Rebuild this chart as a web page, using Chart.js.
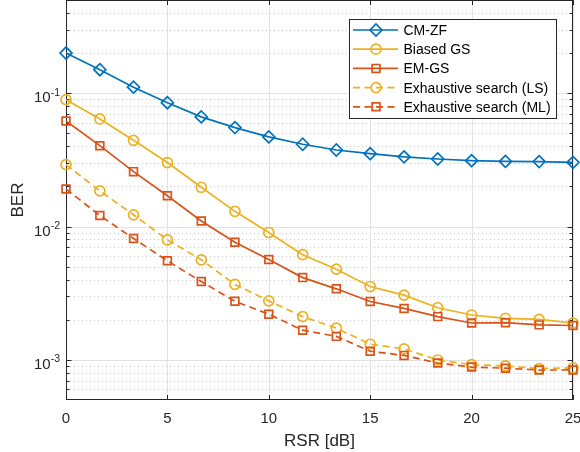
<!DOCTYPE html>
<html>
<head>
<meta charset="utf-8">
<script src="https://cdn.jsdelivr.net/npm/chart.js@4/dist/chart.umd.min.js"></script>
<style>
  html, body { margin: 0; padding: 0; background: #fff; }
  #wrap { width: 580px; height: 452px; }
</style>
</head>
<body>
<div id="wrap"><canvas id="berChart" width="580" height="452"></canvas></div>
<script>
// ── data ──
const rsr = [0, 1.67, 3.33, 5, 6.67, 8.33, 10, 11.67, 13.33, 15, 16.67, 18.33, 20, 21.67, 23.33, 25];
const cmZf = [0.200, 0.150, 0.111, 0.0849, 0.0664, 0.0552, 0.0470, 0.0414, 0.0375, 0.0352, 0.0333, 0.0321, 0.0312, 0.0308, 0.0307, 0.0303];
const biasedGs = [0.0894, 0.0641, 0.0443, 0.0302, 0.0197, 0.0130, 0.00902, 0.00615, 0.00479, 0.00355, 0.00306, 0.00246, 0.00217, 0.00205, 0.00201, 0.00189];
const emGs = [0.0619, 0.0404, 0.0258, 0.0170, 0.0110, 0.00762, 0.00566, 0.00414, 0.00341, 0.00274, 0.00243, 0.00211, 0.00189, 0.00190, 0.00183, 0.00181];
const exhLs = [0.0291, 0.0185, 0.01225, 0.00795, 0.00563, 0.00368, 0.00277, 0.00211, 0.00173, 0.00131, 0.00121, 0.000998, 0.00092, 0.00090, 0.00086, 0.00087];
const exhMl = [0.0191, 0.0121, 0.00813, 0.00553, 0.00387, 0.00275, 0.00220, 0.00167, 0.00150, 0.00116, 0.00108, 0.000946, 0.000883, 0.000866, 0.000839, 0.00084];

const xTicks = [0, 5, 10, 15, 20, 25];
const yDecades = [1e-3, 1e-2, 1e-1];
const yDecadeExps = ['-3', '-2', '-1'];
const seriesNames = ['CM-ZF', 'Biased GS', 'EM-GS', 'Exhaustive search (LS)', 'Exhaustive search (ML)'];

const BLUE = '#0072BD', YELLOW = '#EDB120', ORANGE = '#D95319';
const FONT = '"Liberation Sans", Arial, Helvetica, sans-serif';
const DASH = [7, 4.5];
const LINE_W = 1.7;
const Y_MIN = 5e-4, Y_MAX = 5e-1;

const toPts = arr => arr.map((v, i) => ({ x: rsr[i], y: v }));

function series(label, data, color, style, radius, dashed, order) {
  return {
    label,
    data: toPts(data),
    borderColor: color,
    borderWidth: LINE_W,
    borderDash: dashed ? DASH : [],
    pointStyle: style,
    pointRadius: radius,
    pointBorderColor: color,
    pointBackgroundColor: 'rgba(0,0,0,0)',
    pointBorderWidth: LINE_W,
    tension: 0,
    fill: false,
    clip: false,
    order,
  };
}

const datasets = [
  series(seriesNames[0], cmZf, BLUE, 'rectRot', 6, false, 4),
  series(seriesNames[1], biasedGs, YELLOW, 'circle', 5, false, 3),
  series(seriesNames[2], emGs, ORANGE, 'rect', 5.5, false, 2),
  series(seriesNames[3], exhLs, YELLOW, 'circle', 5, true, 1),
  series(seriesNames[4], exhMl, ORANGE, 'rect', 5.5, true, 0),
];

// ── MATLAB-like axes: grid, box, ticks, labels, legend ──
const matlabAxes = {
  id: 'matlabAxes',
  beforeDraw(chart) {
    const ctx = chart.ctx;
    ctx.save();
    ctx.fillStyle = '#fff';
    ctx.fillRect(0, 0, chart.width, chart.height);
    ctx.restore();
  },
  beforeDatasetsDraw(chart) {
    const { ctx, chartArea: a, scales: { x, y } } = chart;
    ctx.save();
    ctx.lineWidth = 1;

    // minor y grid (dotted)
    ctx.strokeStyle = '#c6c6c6';
    ctx.setLineDash([1, 3]);
    for (let e = -4; e <= -1; e++) {
      for (let m = 2; m <= 9; m++) {
        const v = m * Math.pow(10, e);
        if (v <= Y_MIN || v >= Y_MAX) continue;
        const py = Math.round(y.getPixelForValue(v)) + 0.5;
        ctx.beginPath(); ctx.moveTo(a.left, py); ctx.lineTo(a.right, py); ctx.stroke();
      }
    }

    // major grid (solid)
    ctx.setLineDash([]);
    ctx.strokeStyle = '#e2e2e2';
    yDecades.forEach(v => {
      const py = Math.round(y.getPixelForValue(v)) + 0.5;
      ctx.beginPath(); ctx.moveTo(a.left, py); ctx.lineTo(a.right, py); ctx.stroke();
    });
    xTicks.forEach(v => {
      const px = Math.round(x.getPixelForValue(v)) + 0.5;
      ctx.beginPath(); ctx.moveTo(px, a.top); ctx.lineTo(px, a.bottom); ctx.stroke();
    });

    // box
    ctx.strokeStyle = '#262626';
    ctx.strokeRect(a.left + 0.5, a.top + 0.5, a.right - a.left - 1, a.bottom - a.top - 1);

    // ticks (inward)
    ctx.beginPath();
    xTicks.forEach(v => {
      const px = Math.round(x.getPixelForValue(v)) + 0.5;
      ctx.moveTo(px, a.bottom); ctx.lineTo(px, a.bottom - 5);
      ctx.moveTo(px, a.top); ctx.lineTo(px, a.top + 5);
    });
    for (let e = -4; e <= -1; e++) {
      for (let m = 1; m <= 9; m++) {
        const v = m * Math.pow(10, e);
        if (v <= Y_MIN || v >= Y_MAX) continue;
        const len = m === 1 ? 5.5 : 3.5;
        const py = Math.round(y.getPixelForValue(v)) + 0.5;
        ctx.moveTo(a.left, py); ctx.lineTo(a.left + len, py);
        ctx.moveTo(a.right, py); ctx.lineTo(a.right - len, py);
      }
    }
    ctx.stroke();

    // tick labels
    ctx.fillStyle = '#262626';
    ctx.font = '15px ' + FONT;
    ctx.textAlign = 'center';
    ctx.textBaseline = 'alphabetic';
    xTicks.forEach(v => ctx.fillText(String(v), x.getPixelForValue(v), a.bottom + 23));

    yDecades.forEach((v, i) => {
      const py = y.getPixelForValue(v);
      ctx.font = '10.5px ' + FONT;
      const expW = ctx.measureText(yDecadeExps[i]).width;
      ctx.textAlign = 'right';
      ctx.fillText(yDecadeExps[i], 60, py + 2.5);
      ctx.font = '15px ' + FONT;
      ctx.fillText('10', 60 - expW, py + 9);
    });

    // axis titles
    ctx.font = '17px ' + FONT;
    ctx.textAlign = 'center';
    ctx.fillText('RSR [dB]', (a.left + a.right) / 2, 445.5);
    ctx.save();
    ctx.translate(22.5, (a.top + a.bottom) / 2);
    ctx.rotate(-Math.PI / 2);
    ctx.fillText('BER', 0, 0);
    ctx.restore();

    ctx.restore();
  },
  afterDraw(chart) {
    const ctx = chart.ctx;
    const box = { x: 349.5, y: 19.5, w: 207, h: 99 };
    ctx.save();
    ctx.fillStyle = '#fff';
    ctx.fillRect(box.x, box.y, box.w, box.h);
    ctx.strokeStyle = '#262626';
    ctx.lineWidth = 1;
    ctx.strokeRect(box.x, box.y, box.w, box.h);

    ctx.font = '14px ' + FONT;
    ctx.textAlign = 'left';
    ctx.textBaseline = 'alphabetic';
    datasets.forEach((ds, i) => {
      const cy = 30 + i * 19.2;
      ctx.strokeStyle = ds.borderColor;
      ctx.lineWidth = LINE_W;
      ctx.setLineDash(ds.borderDash);
      ctx.beginPath(); ctx.moveTo(353, cy); ctx.lineTo(398, cy); ctx.stroke();
      ctx.setLineDash([]);
      ctx.fillStyle = 'rgba(0,0,0,0)';
      Chart.helpers.drawPoint(ctx, {
        pointStyle: ds.pointStyle, radius: ds.pointRadius, rotation: 0, borderWidth: LINE_W,
      }, 376, cy);
      ctx.fillStyle = '#000';
      ctx.fillText(ds.label, 403.5, cy + 5);
    });
    ctx.restore();
  },
};

new Chart(document.getElementById('berChart'), {
  type: 'line',
  data: { datasets },
  options: {
    responsive: false,
    animation: false,
    devicePixelRatio: 1,
    layout: { autoPadding: false, padding: { left: 66, right: 7, top: 0, bottom: 52 } },
    plugins: { legend: { display: false }, tooltip: { enabled: false } },
    scales: {
      x: { type: 'linear', min: 0, max: 25, display: false },
      y: { type: 'logarithmic', min: Y_MIN, max: Y_MAX, display: false },
    },
  },
  plugins: [matlabAxes],
});
</script>
</body>
</html>
